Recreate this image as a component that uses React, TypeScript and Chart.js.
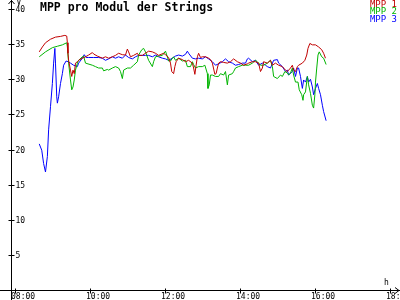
import React, { useEffect, useRef } from "react";
import { Chart, registerables } from "chart.js";

Chart.register(...registerables);

const titleText = "MPP pro Modul der Strings";
const seriesNames = ["MPP 1", "MPP 2", "MPP 3"];
const seriesColors = ["#c00000", "#00b400", "#0000ff"];
const yUnit = "V";
const xUnit = "h";
const yTickValues = [5, 10, 15, 20, 25, 30, 35, 40];
const xTickLabels = ["08:00", "10:00", "12:00", "14:00", "16:00", "18:00"];

const mpp1Times = [
  "8:38", "8:43", "8:48", "8:56", "9:04", "9:12", "9:19", "9:22", "9:23", "9:24",
  "9:25", "9:28", "9:30", "9:32", "9:34", "9:36", "9:39", "9:41", "9:47", "9:52",
  "9:57", "10:03", "10:05", "10:11", "10:19", "10:24", "10:29", "10:35", "10:40", "10:45",
  "10:51", "10:56", "10:59", "11:01", "11:04", "11:09", "11:15", "11:17", "11:23", "11:28",
  "11:33", "11:39", "11:44", "11:49", "11:57", "12:00", "12:05", "12:08", "12:10", "12:13",
  "12:15", "12:17", "12:21", "12:27", "12:32", "12:37", "12:43", "12:45", "12:47", "12:49",
  "12:51", "12:53", "12:56", "12:59", "13:04", "13:09", "13:12", "13:15", "13:19", "13:21",
  "13:23", "13:25", "13:28", "13:33", "13:39", "13:44", "13:49", "13:55", "14:00", "14:05",
  "14:11", "14:13", "14:19", "14:24", "14:29", "14:32", "14:35", "14:37", "14:43", "14:48",
  "14:51", "14:56", "15:01", "15:07", "15:12", "15:15", "15:20", "15:23", "15:25", "15:28",
  "15:31", "15:33", "15:39", "15:43", "15:46", "15:48", "15:51", "15:55", "16:00", "16:05",
  "16:10", "16:13", "16:16",
];
const mpp1Values = [
  33.9, 34.6, 35.2, 35.7, 36.0, 36.1, 36.25, 36.15, 35.2, 33.7,
  32.7, 31.3, 30.4, 31.3, 30.8, 32.3, 32.5, 32.7, 33.0, 33.2,
  33.45, 33.8, 33.6, 33.3, 33.0, 33.2, 33.0, 33.2, 33.4, 33.7,
  33.5, 33.45, 34.3, 33.9, 33.2, 33.4, 33.7, 33.4, 33.4, 33.7,
  34.0, 33.9, 33.7, 33.4, 33.7, 33.5, 33.1, 32.3, 31.1, 30.8,
  31.8, 32.5, 33.0, 32.8, 32.5, 32.7, 32.3, 31.6, 30.7, 32.0,
  33.2, 33.7, 33.1, 33.2, 33.2, 33.0, 32.8, 32.3, 30.7, 30.8,
  31.6, 32.3, 32.5, 32.4, 32.3, 32.5, 32.9, 32.5, 32.3, 32.0,
  32.2, 32.3, 32.5, 32.5, 32.3, 31.1, 31.6, 32.5, 32.3, 32.7,
  32.0, 32.3, 32.0, 31.8, 31.3, 31.1, 31.6, 32.0, 31.3, 31.1,
  31.8, 32.0, 32.3, 32.7, 33.45, 34.4, 35.1, 34.9, 34.9, 34.6,
  34.2, 33.7, 33.0,
];

const mpp2Times = [
  "8:38", "8:48", "8:59", "9:07", "9:15", "9:22", "9:23", "9:25", "9:28", "9:30",
  "9:32", "9:34", "9:36", "9:39", "9:41", "9:47", "9:49", "9:52", "10:03", "10:08",
  "10:13", "10:19", "10:21", "10:27", "10:29", "10:35", "10:40", "10:45", "10:48", "10:51",
  "10:53", "10:59", "11:04", "11:09", "11:15", "11:17", "11:22", "11:25", "11:28", "11:33",
  "11:39", "11:41", "11:44", "11:49", "11:55", "12:00", "12:03", "12:05", "12:08", "12:11",
  "12:13", "12:16", "12:21", "12:27", "12:32", "12:35", "12:40", "12:43", "12:45", "12:48",
  "12:53", "12:59", "13:03", "13:07", "13:08", "13:10", "13:12", "13:15", "13:20", "13:25",
  "13:28", "13:33", "13:36", "13:39", "13:41", "13:47", "13:49", "13:52", "13:57", "14:03",
  "14:08", "14:13", "14:19", "14:24", "14:27", "14:32", "14:37", "14:43", "14:48", "14:51",
  "14:53", "14:59", "15:04", "15:07", "15:11", "15:15", "15:17", "15:20", "15:23", "15:25",
  "15:28", "15:32", "15:34", "15:38", "15:40", "15:41", "15:44", "15:47", "15:49", "15:52",
  "15:55", "15:57", "15:59", "16:00", "16:02", "16:04", "16:06", "16:10", "16:13", "16:17",
];
const mpp2Values = [
  33.2, 33.9, 34.5, 34.7, 34.9, 35.2, 34.6, 32.3, 29.9, 28.5,
  28.9, 29.9, 31.3, 32.3, 32.7, 33.2, 33.3, 32.3, 32.0, 31.8,
  31.6, 31.6, 31.2, 31.4, 31.3, 31.6, 31.8, 31.6, 31.1, 30.1,
  31.3, 31.6, 31.6, 32.0, 32.5, 33.45, 34.2, 34.4, 33.9, 32.7,
  31.8, 32.5, 33.2, 33.3, 33.4, 34.0, 33.2, 32.6, 32.6, 33.0,
  33.2, 32.7, 33.0, 32.6, 32.7, 31.8, 31.8, 32.5, 32.1, 31.6,
  31.8, 31.8, 32.0, 30.8, 28.7, 29.2, 30.6, 30.6, 30.4, 30.4,
  30.8, 30.6, 31.1, 29.2, 30.6, 30.8, 31.1, 31.6, 31.8, 32.0,
  32.0, 32.0, 32.3, 32.7, 32.5, 32.0, 32.0, 32.3, 32.7, 31.8,
  30.4, 30.1, 30.6, 30.4, 31.1, 30.9, 30.6, 30.9, 31.6, 30.6,
  29.6, 29.6, 28.5, 27.8, 27.0, 27.8, 28.2, 30.4, 29.2, 28.0,
  26.3, 25.9, 27.8, 29.6, 31.6, 33.45, 33.9, 33.2, 33.0, 32.1,
];

const mpp3Times = [
  "8:38", "8:42", "8:45", "8:48", "8:51", "8:53", "8:56", "8:59", "9:01", "9:03",
  "9:04", "9:06", "9:07", "9:09", "9:12", "9:15", "9:17", "9:21", "9:24", "9:28",
  "9:33", "9:39", "9:41", "9:47", "9:50", "9:53", "9:57", "10:05", "10:13", "10:19",
  "10:24", "10:29", "10:35", "10:40", "10:45", "10:51", "10:56", "11:01", "11:07", "11:12",
  "11:17", "11:23", "11:28", "11:33", "11:39", "11:44", "11:49", "11:55", "12:00", "12:05",
  "12:11", "12:16", "12:21", "12:27", "12:32", "12:35", "12:37", "12:43", "12:48", "12:53",
  "12:59", "13:04", "13:09", "13:15", "13:20", "13:25", "13:31", "13:36", "13:41", "13:47",
  "13:52", "13:57", "14:03", "14:08", "14:11", "14:13", "14:19", "14:24", "14:29", "14:35",
  "14:40", "14:43", "14:48", "14:53", "14:59", "15:01", "15:07", "15:12", "15:15", "15:17",
  "15:23", "15:25", "15:28", "15:31", "15:33", "15:36", "15:39", "15:41", "15:44", "15:47",
  "15:49", "15:52", "15:55", "15:57", "16:00", "16:03", "16:05", "16:08", "16:11", "16:13",
  "16:17",
];
const mpp3Values = [
  20.8, 19.9, 18.0, 16.8, 19.0, 22.8, 26.1, 29.4, 32.3, 34.4,
  32.3, 27.5, 26.6, 27.5, 29.4, 30.8, 32.0, 32.6, 32.5, 32.3,
  32.0, 31.8, 32.3, 33.0, 33.5, 33.1, 33.1, 33.1, 33.1, 33.0,
  32.7, 32.9, 33.2, 33.0, 33.2, 33.0, 33.45, 33.1, 32.9, 33.2,
  33.4, 33.4, 33.4, 33.4, 33.2, 33.45, 33.2, 33.0, 32.9, 32.7,
  33.0, 33.3, 33.45, 33.3, 33.55, 34.0, 33.7, 33.0, 32.9, 33.0,
  32.9, 33.2, 32.9, 32.5, 32.0, 32.2, 32.5, 32.9, 32.5, 32.3,
  32.0, 32.1, 32.3, 32.3, 32.9, 33.0, 32.5, 32.7, 32.0, 32.3,
  32.0, 31.8, 31.6, 32.7, 32.8, 32.3, 31.8, 31.1, 31.3, 30.6,
  31.1, 31.6, 30.4, 31.6, 31.6, 30.4, 28.7, 29.9, 29.6, 30.4,
  29.6, 30.0, 28.9, 27.8, 28.7, 29.4, 28.7, 27.8, 26.3, 25.4,
  24.1,
];

const seriesTimes = [mpp1Times, mpp2Times, mpp3Times];
const seriesValues = [mpp1Values, mpp2Values, mpp3Values];

function toHours(t: string): number {
  const [h, m] = t.split(":").map(Number);
  return h + m / 60;
}

const MONO = "'DejaVu Sans Mono', 'Liberation Mono', monospace";

const decorPlugin = {
  id: "decor",
  beforeDatasetsDraw(chart: any) {
    const ctx = chart.ctx as CanvasRenderingContext2D;
    const xs = chart.scales.x;
    const ys = chart.scales.y;
    const ax = Math.round(xs.left) + 0.5;
    const ay = Math.round(ys.getPixelForValue(0)) + 0.5;
    ctx.save();
    ctx.strokeStyle = "#000";
    ctx.lineWidth = 1;
    ctx.beginPath();
    // y axis
    ctx.moveTo(ax, 0);
    ctx.lineTo(ax, chart.height);
    // x axis
    ctx.moveTo(0, ay);
    ctx.lineTo(chart.width, ay);
    // arrows
    ctx.moveTo(ax - 3, 4);
    ctx.lineTo(ax, 0.5);
    ctx.lineTo(ax + 3, 4);
    ctx.moveTo(chart.width - 5, ay - 3);
    ctx.lineTo(chart.width - 1, ay);
    ctx.lineTo(chart.width - 5, ay + 3);
    // y ticks
    for (const v of yTickValues) {
      const py = Math.round(ys.getPixelForValue(v)) + 0.5;
      ctx.moveTo(ax - 3, py);
      ctx.lineTo(ax + 3, py);
    }
    // x ticks
    for (const lbl of xTickLabels) {
      const px = Math.round(xs.getPixelForValue(toHours(lbl))) + 0.5;
      ctx.moveTo(px, ay - 2);
      ctx.lineTo(px, ay + 3);
    }
    ctx.stroke();

    ctx.fillStyle = "#000";
    ctx.font = `8px ${MONO}`;
    ctx.textAlign = "left";
    ctx.textBaseline = "middle";
    for (const v of yTickValues) {
      const py = Math.round(ys.getPixelForValue(v));
      ctx.fillText(String(v), ax + 4, py + 1);
    }
    ctx.textBaseline = "top";
    for (const lbl of xTickLabels) {
      const px = Math.round(xs.getPixelForValue(toHours(lbl)));
      ctx.fillText(lbl, px - 4, ay + 2.5);
    }
    ctx.textBaseline = "middle";
    ctx.fillText(yUnit, ax + 5, 3);
    ctx.fillText(xUnit, chart.width - 16, ay - 8);
    ctx.restore();
  },
  afterDraw(chart: any) {
    const ctx = chart.ctx as CanvasRenderingContext2D;
    ctx.save();
    ctx.fillStyle = "#000";
    ctx.font = `bold 11.5px ${MONO}`;
    ctx.textAlign = "left";
    ctx.textBaseline = "middle";
    ctx.fillText(titleText, 40, 8);
    ctx.font = `9px ${MONO}`;
    ctx.textAlign = "right";
    seriesNames.forEach((name, i) => {
      ctx.fillStyle = seriesColors[i];
      ctx.fillText(name, 397, 4.5 + i * 7.5);
    });
    ctx.restore();
  },
};

export default function App() {
  const canvasRef = useRef<HTMLCanvasElement | null>(null);

  useEffect(() => {
    const canvas = canvasRef.current;
    if (!canvas) return;
    const chart = new Chart(canvas, {
      type: "line",
      data: {
        datasets: seriesNames.map((name, i) => ({
          label: name,
          data: seriesTimes[i].map((t, j) => ({ x: toHours(t), y: seriesValues[i][j] })),
          borderColor: seriesColors[i],
          backgroundColor: seriesColors[i],
          borderWidth: 1,
          pointRadius: 0,
          tension: 0,
          fill: false,
        })),
      },
      options: {
        responsive: false,
        animation: false,
        events: [],
        layout: { padding: { left: 11, right: 1, top: 2, bottom: 10 } },
        plugins: {
          legend: { display: false },
          title: { display: false },
          tooltip: { enabled: false },
        },
        scales: {
          x: { type: "linear", display: false, min: 7.88, max: 18.2267 },
          y: { type: "linear", display: false, min: 0, max: 41 },
        },
      },
      plugins: [decorPlugin],
    });
    return () => chart.destroy();
  }, []);

  return (
    <div style={{ position: "fixed", left: 0, top: 0, width: 400, height: 300, background: "#fff" }}>
      <canvas ref={canvasRef} width={400} height={300} style={{ display: "block" }} />
    </div>
  );
}
